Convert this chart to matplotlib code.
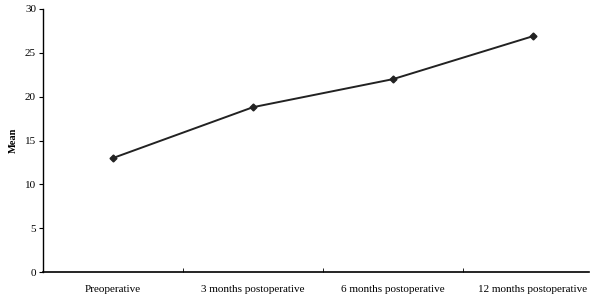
import matplotlib
matplotlib.use("Agg")
import matplotlib.pyplot as plt
from matplotlib.ticker import FixedLocator

categories = ["Preoperative", "3 months postoperative", "6 months postoperative", "12 months postoperative"]
means = [13.0, 18.8, 22.0, 26.9]
yticks = [0, 5, 10, 15, 20, 25, 30]

plt.rcParams['font.family'] = ['Liberation Serif', 'DejaVu Serif']

fig = plt.figure(figsize=(5.97, 3.01), dpi=100)
ax = fig.add_axes([43/597, 29/301, 546/597, 263/301])
x = list(range(len(categories)))
ax.plot(x, means, color='#222222', lw=1.4, marker='D', ms=3.5)
ax.set_xlim(-0.5, 3.4)
ax.set_ylim(0, 30)
ax.set_yticks(yticks)
ax.set_xticks(x)
ax.set_xticklabels(categories, fontsize=8)
ax.xaxis.set_minor_locator(FixedLocator([0.5, 1.5, 2.5]))
ax.tick_params(axis='x', which='major', length=0, pad=9)
ax.tick_params(axis='x', which='minor', length=3, direction='in')
ax.tick_params(axis='y', length=3, labelsize=8, pad=2)
for s in ['top', 'right']:
    ax.spines[s].set_visible(False)
ax.spines['left'].set_linewidth(1.0)
ax.spines['bottom'].set_linewidth(1.2)
ax.set_ylabel("Mean", fontsize=7.5, fontweight='bold', labelpad=5)
fig.savefig("out.png", dpi=100)
